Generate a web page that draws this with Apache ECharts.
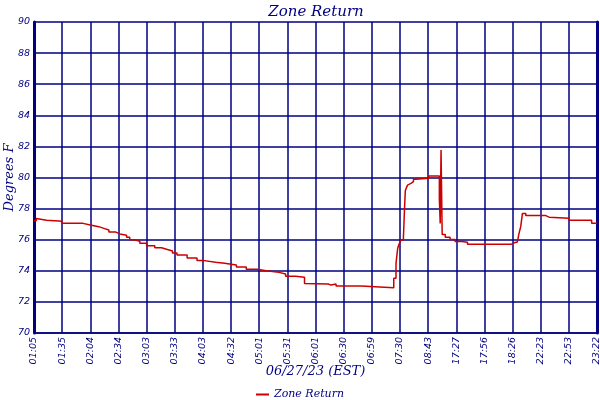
<!DOCTYPE html>
<html><head><meta charset="utf-8">
<script src="https://cdn.jsdelivr.net/npm/echarts@6/dist/echarts.min.js"></script>
<style>html,body{margin:0;padding:0;background:#fff}#c{width:600px;height:400px}</style>
</head><body><div id="c"></div>
<script>
const tickLabels = ['01:05','01:35','02:04','02:34','03:03','03:33','04:03','04:32','05:01','05:31','06:01','06:30','06:59','07:30','08:43','17:27','17:56','18:26','22:23','22:53','23:22'];
// position along the axis, in tick units (0 = 01:05, 20 = 23:22)
const tickPos = [0,0.08,0.14,0.45,1.00,1.74,2.00,2.30,2.48,2.66,2.91,3.05,3.29,3.40,3.58,3.76,4.00,4.29,4.53,4.71,4.92,5.08,5.44,5.79,5.99,6.45,6.77,7.19,7.54,7.92,8.25,8.70,8.94,9.29,9.61,9.67,10.45,10.55,10.73,11.62,12.78,12.86,12.92,12.98,13.04,13.12,13.16,13.19,13.22,13.27,13.33,13.39,13.48,13.57,14.02,14.40,14.43,14.46,14.50,14.61,14.78,14.96,15.20,15.40,16.30,16.34,16.94,17.06,17.17,17.23,17.29,17.35,17.47,18.18,18.30,19.01,19.81,20];
const zoneReturn = [77.22,77.37,77.25,77.18,77.05,76.94,76.84,76.73,76.62,76.49,76.37,76.28,76.15,76.00,75.90,75.77,75.61,75.48,75.38,75.27,75.14,75.01,74.82,74.67,74.55,74.48,74.37,74.24,74.10,74.01,73.90,73.79,73.65,73.58,73.19,73.15,73.08,73.15,73.02,72.91,73.52,74.48,75.45,75.77,75.98,76.09,77.90,79.15,79.30,79.51,79.62,79.73,79.88,79.95,80.10,78.60,77.05,81.77,76.33,76.15,76.02,75.89,75.83,75.70,75.66,75.70,75.80,75.85,75.90,76.41,76.84,77.68,77.55,77.45,77.38,77.25,77.05,77.05];

const navy = '#000080';
const seriesData = tickPos.map((x, i) => [x, zoneReturn[i]]);
const chart = echarts.init(document.getElementById('c'));
chart.setOption({
  animation: false,
  backgroundColor: '#fff',
  title: {
    text: 'Zone Return', left: 311, top: 0, textAlign: 'center',
    textStyle: {color: navy, fontFamily: 'DejaVu Serif', fontStyle: 'italic', fontWeight: 'normal', fontSize: 15}
  },
  legend: {
    data: ['Zone Return'], left: 'center', top: 384,
    icon: 'rect', itemWidth: 13, itemHeight: 2, itemGap: 4,
    textStyle: {color: navy, fontFamily: 'DejaVu Serif', fontStyle: 'italic', fontSize: 11}
  },
  grid: {left: 34, right: 3, top: 22, bottom: 67, containLabel: false, outerBoundsMode: 'none'},
  xAxis: {
    type: 'value', min: 0, max: 20, interval: 1,
    name: '06/27/23 (EST)', nameLocation: 'middle', nameGap: 32, nameMoveOverlap: false,
    nameTextStyle: {color: navy, fontFamily: 'DejaVu Serif', fontStyle: 'italic', fontSize: 13},
    axisLine: {show: true, lineStyle: {color: navy, width: 1.5}},
    axisTick: {show: false},
    splitLine: {show: true, lineStyle: {color: navy, width: 1.5}},
    axisLabel: {
      rotate: 90, margin: 4, color: navy, fontFamily: 'DejaVu Sans', fontStyle: 'italic', fontSize: 9.5,
      formatter: v => tickLabels[Math.round(v)] || '', showMaxLabel: true, showMinLabel: true
    }
  },
  yAxis: [{
    type: 'value', min: 70, max: 90, interval: 2,
    name: 'Degrees F', nameLocation: 'middle', nameGap: 18, nameMoveOverlap: false,
    nameTextStyle: {color: navy, fontFamily: 'DejaVu Serif', fontStyle: 'italic', fontSize: 13},
    axisLine: {show: true, lineStyle: {color: navy, width: 3}},
    axisTick: {show: false},
    splitLine: {show: true, lineStyle: {color: navy, width: 1.5}},
    axisLabel: {margin: 4, color: navy, fontFamily: 'DejaVu Sans', fontStyle: 'italic', fontSize: 9.5}
  }, {
    type: 'value', min: 70, max: 90, interval: 2, position: 'right',
    axisLine: {show: true, lineStyle: {color: navy, width: 3}},
    axisTick: {show: false}, axisLabel: {show: false}, splitLine: {show: false}
  }],
  series: [{
    name: 'Zone Return', type: 'line', step: 'end', showSymbol: false,
    data: seriesData, color: '#cc0000',
    lineStyle: {color: '#cc0000', width: 1.5}
  }]
});
</script></body></html>
